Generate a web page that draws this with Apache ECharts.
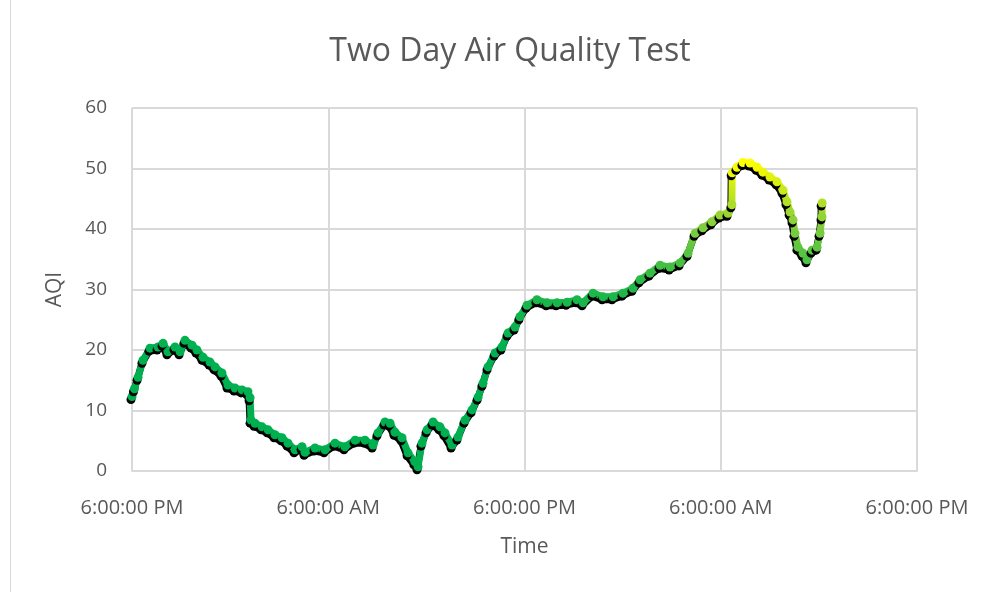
<!DOCTYPE html>
<html>
<head>
<meta charset="utf-8">
<title>Two Day Air Quality Test</title>
<script src="https://cdn.jsdelivr.net/npm/echarts@6/dist/echarts.min.js"></script>
<style>
  html, body { margin: 0; padding: 0; background: #fff; }
  #frame { position: absolute; left: 10px; top: -1px; width: 1000px; height: 600px; border: 1px solid #d9d9d9; box-sizing: border-box; }
  #chart { position: absolute; left: 0; top: 0; width: 995px; height: 592px; }
</style>
</head>
<body>
<div id="frame"></div>
<div id="chart"></div>
<script>
// hours since the first 6:00 PM
var hours = [
  0, 0.15, 0.37, 0.67, 1.10, 1.59, 1.90, 2.20, 2.63, 2.94, 3.24, 3.67, 3.97,
  4.34, 4.77, 5.08, 5.50, 5.87, 6.30, 6.73, 7.09, 7.22, 7.28, 7.52, 7.95,
  8.32, 8.74, 9.17, 9.54, 9.97, 10.40, 10.58, 11.19, 11.80, 12.41, 13.02,
  13.64, 14.25, 14.74, 15.04, 15.47, 15.78, 16.08, 16.51, 16.88, 17.30,
  17.49, 17.73, 18.04, 18.41, 18.83, 19.14, 19.57, 19.93, 20.36, 20.79,
  21.16, 21.46, 21.77, 22.20, 22.62, 22.99, 23.42, 23.72, 24.15, 24.76,
  25.38, 25.99, 26.60, 27.21, 27.58, 28.19, 28.80, 29.41, 30.02, 30.63,
  31.06, 31.67, 32.29, 32.90, 33.51, 34.00, 34.43, 34.91, 35.46, 35.95,
  36.44, 36.68, 36.70, 36.99, 37.36, 37.79, 38.22, 38.58, 39.01, 39.44,
  39.81, 40.05, 40.24, 40.42, 40.54, 40.72, 41.03, 41.27, 41.58, 41.89,
  42.07, 42.19, 42.20
];
var aqi = [
  12.3, 13.6, 15.5, 18.3, 20.3, 20.5, 21.1, 19.7, 20.5, 19.7, 21.6, 20.8, 20.0,
  18.8, 18.0, 17.2, 16.2, 14.2, 13.7, 13.4, 13.1, 12.1, 8.4, 7.9, 7.3,
  6.8, 6.0, 5.5, 4.6, 3.5, 4.0, 3.1, 3.8, 3.5, 4.6, 4.0,
  5.1, 5.1, 4.3, 6.3, 8.1, 7.9, 6.4, 5.5, 3.0, 1.5,
  0.7, 4.6, 6.8, 8.1, 7.3, 6.3, 4.3, 5.6, 8.4, 10.1,
  12.2, 14.5, 17.2, 19.5, 20.5, 22.8, 23.8, 25.5, 27.4, 28.3,
  27.8, 27.8, 27.9, 28.3, 27.8, 29.4, 28.8, 28.8, 29.4, 30.2,
  31.6, 32.7, 34.0, 33.7, 34.4, 36.0, 39.3, 40.2, 41.2, 42.3,
  42.6, 44.0, 49.3, 50.2, 51.0, 50.9, 50.2, 49.4, 48.6, 47.8,
  46.4, 44.5, 42.8, 41.5, 39.3, 37.0, 36.0, 34.9, 36.5, 37.0,
  39.3, 42.0, 44.3
];
var tickLabels = ['6:00:00 PM', '6:00:00 AM', '6:00:00 PM', '6:00:00 AM', '6:00:00 PM'];

var points = hours.map(function (h, i) { return [h, aqi[i]]; });

var chart = echarts.init(document.getElementById('chart'));
var textColor = '#595959';
var gridColor = '#d9d9d9';

chart.setOption({
  backgroundColor: 'transparent',
  animation: false,
  title: {
    text: 'Two Day Air Quality Test',
    left: 505,
    top: 31,
    textAlign: 'center',
    textStyle: { fontFamily: 'Open Sans', fontSize: 32, fontWeight: 'normal', color: textColor }
  },
  grid: { left: 132, right: 78, top: 108, bottom: 121 },
  visualMap: {
    show: false,
    type: 'continuous',
    dimension: 1,
    min: 0,
    max: 51,
    inRange: { color: ['#00b050', '#00b050', '#00b050', '#22b848', '#85ce3c', '#ffff00'] }
  },
  xAxis: {
    type: 'value',
    min: 0,
    max: 48,
    interval: 12,
    name: 'Time',
    nameLocation: 'middle',
    nameGap: 66,
    nameTextStyle: { fontFamily: 'Open Sans', fontSize: 21, color: textColor },
    axisLine: { lineStyle: { color: gridColor, width: 2 } },
    axisTick: { show: false },
    axisLabel: {
      margin: 27,
      fontFamily: 'Open Sans',
      fontSize: 20,
      color: textColor,
      formatter: function (v) { return tickLabels[Math.round(v / 12)]; }
    },
    splitLine: { show: true, lineStyle: { color: gridColor, width: 2 } }
  },
  yAxis: {
    type: 'value',
    min: 0,
    max: 60,
    interval: 10,
    name: 'AQI',
    nameLocation: 'middle',
    nameGap: 66,
    nameTextStyle: { fontFamily: 'Open Sans', fontSize: 21, color: textColor },
    axisLine: { show: false },
    axisTick: { show: false },
    axisLabel: { margin: 25, fontFamily: 'Open Sans', fontSize: 19, color: textColor },
    splitLine: { lineStyle: { color: gridColor, width: 2 } }
  },
  series: [{
    type: 'line',
    data: points,
    symbol: 'circle',
    symbolSize: 9,
    showAllSymbol: true,
    lineStyle: {
      width: 7,
      shadowColor: '#000',
      shadowBlur: 0,
      shadowOffsetX: -1,
      shadowOffsetY: 3
    },
    itemStyle: {
      shadowColor: '#000',
      shadowBlur: 0,
      shadowOffsetX: -1,
      shadowOffsetY: 3
    }
  }]
});
</script>
</body>
</html>
